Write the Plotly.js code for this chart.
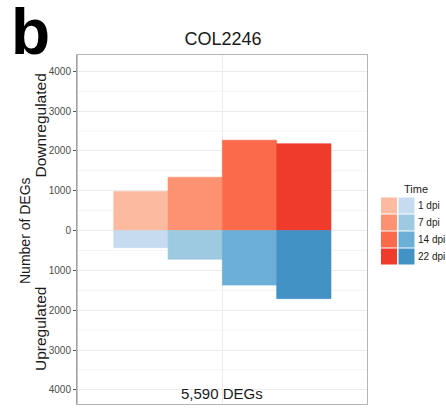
<!DOCTYPE html>
<html>
<head>
<meta charset="utf-8">
<script src="https://cdn.plot.ly/plotly-3.0.1.min.js"></script>
<style>
  html, body { margin: 0; padding: 0; background: #ffffff; }
  #chart { width: 446px; height: 411px; }
</style>
</head>
<body>
<div id="chart"></div>
<script>
// Time points and DEG counts for COL2246
const timeLabels = ['1 dpi', '7 dpi', '14 dpi', '22 dpi'];
const timePos = [1, 2, 3, 4];
const downregulated = [980, 1340, 2270, 2180];
const upregulated = [430, 720, 1370, 1710];
const totalLabel = '5,590 DEGs';

// Brewer Reds / Blues
const redColors = ['#FCBBA1', '#FC9272', '#FB6A4A', '#EF3B2C'];
const blueColors = ['#C6DBEF', '#9ECAE1', '#6BAED6', '#4292C6'];

const yTickVals = [-4000, -3000, -2000, -1000, 0, 1000, 2000, 3000, 4000];
const yTickText = yTickVals.map(v => String(Math.abs(v)));
const yMinorVals = [-3500, -2500, -1500, -500, 500, 1500, 2500, 3500];

const W = 446, H = 411;
const M = { l: 77, r: 79, t: 55, b: 7 };
const pw = W - M.l - M.r, ph = H - M.t - M.b;
const px = x => (x - M.l) / pw;          // page pixel -> paper x
const py = y => 1 - (y - M.t) / ph;      // page pixel -> paper y

const font = 'Liberation Sans, Arial, Helvetica, sans-serif';

const traces = [
  {
    type: 'bar', x: timePos, y: downregulated, width: 1,
    marker: { color: redColors, line: { color: redColors, width: 0.6 } },
    showlegend: false, hoverinfo: 'skip'
  },
  {
    type: 'bar', x: timePos, y: upregulated.map(v => -v), width: 1,
    marker: { color: blueColors, line: { color: blueColors, width: 0.6 } },
    showlegend: false, hoverinfo: 'skip'
  }
];

// legend keys: one red and one blue swatch per time point
const shapes = [];
const annotations = [];
const keyTop = 197.5, keyStep = 17, keySize = 16;
timeLabels.forEach((lab, i) => {
  const y0 = keyTop + i * keyStep;
  shapes.push({ type: 'rect', xref: 'paper', yref: 'paper',
    x0: px(381), x1: px(381 + keySize), y0: py(y0 + keySize), y1: py(y0),
    fillcolor: redColors[i], line: { width: 0 } });
  shapes.push({ type: 'rect', xref: 'paper', yref: 'paper',
    x0: px(398.5), x1: px(398.5 + keySize), y0: py(y0 + keySize), y1: py(y0),
    fillcolor: blueColors[i], line: { width: 0 } });
  annotations.push({ xref: 'paper', yref: 'paper', x: px(416), y: py(y0 + keySize / 2),
    xanchor: 'left', yanchor: 'middle', showarrow: false, text: lab,
    font: { family: font, size: 10, color: '#1a1a1a' } });
});
annotations.push({ xref: 'paper', yref: 'paper', x: px(402), y: py(189),
  xanchor: 'left', yanchor: 'middle', showarrow: false, text: 'Time',
  font: { family: font, size: 11, color: '#1a1a1a' } });

// minor horizontal gridlines
yMinorVals.forEach(v => shapes.push({ type: 'line', xref: 'paper', yref: 'y',
  x0: 0, x1: 1, y0: v, y1: v, layer: 'below', line: { color: '#F4F4F4', width: 1 } }));

// darker left axis line
shapes.push({ type: 'line', xref: 'paper', yref: 'paper', x0: 0, x1: 0, y0: 0, y1: 1,
  line: { color: '#8C8C8C', width: 1 } });

// panel letter
annotations.push({ xref: 'paper', yref: 'paper', x: px(9), y: py(32),
  xanchor: 'left', yanchor: 'middle', showarrow: false, text: '<b>b</b>',
  font: { family: font, size: 64, color: '#000000' } });

// y axis titles
annotations.push({ xref: 'paper', yref: 'paper', x: px(25), y: py(231),
  xanchor: 'center', yanchor: 'middle', showarrow: false, textangle: -90,
  text: 'Number of DEGs', font: { family: font, size: 14, color: '#1a1a1a' } });
annotations.push({ xref: 'paper', yref: 'paper', x: px(40), y: py(125.5),
  xanchor: 'center', yanchor: 'middle', showarrow: false, textangle: -90,
  text: 'Downregulated', font: { family: font, size: 15.5, color: '#1a1a1a' } });
annotations.push({ xref: 'paper', yref: 'paper', x: px(40), y: py(329),
  xanchor: 'center', yanchor: 'middle', showarrow: false, textangle: -90,
  text: 'Upregulated', font: { family: font, size: 15.5, color: '#1a1a1a' } });

// total label inside panel
annotations.push({ xref: 'paper', yref: 'paper', x: px(222), y: py(393),
  xanchor: 'center', yanchor: 'middle', showarrow: false, text: totalLabel,
  font: { family: font, size: 15, color: '#1a1a1a' } });

const layout = {
  width: W, height: H,
  margin: M,
  paper_bgcolor: '#ffffff', plot_bgcolor: '#ffffff',
  barmode: 'overlay', bargap: 0,
  title: { text: 'COL2246', x: px(222), xanchor: 'center', y: 1 - 39 / H, yanchor: 'middle',
    font: { family: font, size: 18, color: '#1a1a1a' } },
  xaxis: {
    range: [-0.176, 5.163], tickvals: [2.5], showticklabels: false, ticks: '',
    showgrid: true, gridcolor: '#EBEBEB', gridwidth: 1, zeroline: false,
    showline: true, mirror: true, linecolor: '#B5B5B5', linewidth: 1, fixedrange: true
  },
  yaxis: {
    range: [-4356, 4409], tickvals: yTickVals, ticktext: yTickText,
    ticks: 'outside', ticklen: 3, tickcolor: '#555555', tickwidth: 1,
    tickfont: { family: font, size: 10, color: '#4D4D4D' },
    showgrid: true, gridcolor: '#EBEBEB', gridwidth: 1, zeroline: false,
    showline: true, mirror: true, linecolor: '#B5B5B5', linewidth: 1, fixedrange: true
  },
  shapes: shapes,
  annotations: annotations,
  showlegend: false
};

Plotly.newPlot('chart', traces, layout, { displayModeBar: false, staticPlot: true });
</script>
</body>
</html>
